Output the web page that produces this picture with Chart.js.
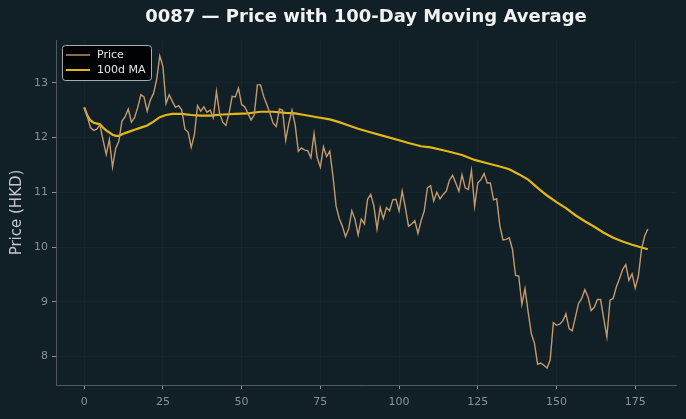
<!DOCTYPE html>
<html>
	<head>
		<meta charset="utf-8">
		<title>0087 Price with 100-Day MA</title>
		<script src="https://cdn.jsdelivr.net/npm/chart.js"></script>
		<style>
			html, body {
				margin: 0;
				padding: 0;
				background: #111f26;
			}
			#wrap {
				width: 686px;
				height: 419px;
			}
		</style>
	</head>
	<body>
		<div id="wrap">
			<canvas id="chart" width="686" height="419"></canvas>
		</div>
		<script>
			// daily closing price, index 0..179
			const priceValues = [
				12.55, 12.38, 12.18, 12.13, 12.15, 12.23, 11.95, 11.69, 11.96, 11.46,
				11.80, 11.93, 12.30, 12.38, 12.52, 12.28, 12.36, 12.55, 12.78, 12.74,
				12.48, 12.68, 12.80, 13.05, 13.49, 13.30, 12.62, 12.78, 12.66, 12.55,
				12.58, 12.50, 12.15, 12.10, 11.82, 12.05, 12.58, 12.48, 12.56, 12.46,
				12.50, 12.36, 12.84, 12.44, 12.28, 12.22, 12.44, 12.75, 12.74, 12.90,
				12.60, 12.56, 12.44, 12.32, 12.41, 12.96, 12.96, 12.75, 12.60, 12.44,
				12.26, 12.20, 12.52, 12.50, 11.95, 12.26, 12.50, 12.23, 11.75, 11.81,
				11.77, 11.76, 11.63, 12.07, 11.63, 11.46, 11.83, 11.65, 11.75, 11.30,
				10.75, 10.52, 10.38, 10.19, 10.33, 10.66, 10.51, 10.22, 10.51, 10.42,
				10.87, 10.96, 10.75, 10.33, 10.72, 10.52, 10.72, 10.66, 10.86, 10.87,
				10.66, 11.02, 10.72, 10.38, 10.42, 10.48, 10.25, 10.48, 10.66, 11.08,
				11.12, 10.84, 11.00, 10.88, 10.96, 11.02, 11.22, 11.31, 11.17, 11.02,
				11.32, 11.08, 11.05, 11.40, 10.74, 11.17, 11.23, 11.34, 11.17, 11.17,
				10.86, 10.88, 10.39, 10.13, 10.14, 10.17, 9.96, 9.48, 9.47, 8.95,
				9.24, 8.81, 8.42, 8.24, 7.86, 7.88, 7.84, 7.79, 7.94, 8.62,
				8.57, 8.59, 8.65, 8.78, 8.51, 8.47, 8.72, 8.97, 9.06, 9.22,
				9.09, 8.84, 8.90, 9.04, 9.04, 8.69, 8.36, 9.03, 9.06, 9.27,
				9.42, 9.59, 9.68, 9.39, 9.51, 9.25, 9.47, 9.96, 10.20, 10.33
			];

			// 100-day moving average, read at these day indices
			const maDays = [
				0, 1, 2, 3, 5, 6, 7, 9, 10, 11, 13, 15, 16, 18, 20, 22, 24, 26, 28, 31,
				34, 37, 40, 44, 48, 52, 56, 60, 64, 67, 70, 74, 78, 81, 84, 87, 90, 95,
				100, 103, 107, 110, 113, 116, 120, 124, 128, 132, 135, 138, 141, 144,
				147, 150, 153, 156, 159, 162, 165, 168, 171, 174, 177, 179
			];
			const maValues = [
				12.55, 12.40, 12.31, 12.27, 12.24, 12.18, 12.13, 12.05, 12.03, 12.03,
				12.08, 12.12, 12.14, 12.18, 12.22, 12.29, 12.37, 12.41, 12.43, 12.43,
				12.41, 12.40, 12.40, 12.42, 12.43, 12.44, 12.47, 12.47, 12.45, 12.44,
				12.41, 12.37, 12.33, 12.28, 12.22, 12.16, 12.11, 12.03,
				11.95, 11.90, 11.84, 11.82, 11.78, 11.74, 11.68, 11.59, 11.53, 11.47,
				11.42, 11.33, 11.23, 11.08,
				10.94, 10.82, 10.71, 10.58, 10.47, 10.37, 10.26, 10.17, 10.10, 10.04,
				9.99, 9.96
			];

			const xTicks = [0, 25, 50, 75, 100, 125, 150, 175];
			const yTicks = [8, 9, 10, 11, 12, 13];

			const chartTitle = '0087 — Price with 100-Day Moving Average';
			const seriesLabels = ['Price', '100d MA'];
			const seriesColors = ['#c49a6c', '#e3b714'];

			const bgPlugin = {
				id: 'bg',
				beforeDraw(chart) {
					const c = chart.ctx;
					c.save();
					c.fillStyle = '#111f26';
					c.fillRect(0, 0, chart.width, chart.height);
					c.restore();
				}
			};

			// title centred over the plot area (like matplotlib), not the canvas
			const plotTitle = {
				id: 'plotTitle',
				afterDraw(chart) {
					const c = chart.ctx;
					const a = chart.chartArea;
					c.save();
					c.font = 'bold 18px "DejaVu Sans"';
					c.fillStyle = '#f2f2f2';
					c.textAlign = 'center';
					c.textBaseline = 'middle';
					c.fillText(chartTitle, (a.left + a.right) / 2, 17.5);
					c.restore();
				}
			};

			// matplotlib-like legend box in the upper left of the plot
			const boxLegend = {
				id: 'boxLegend',
				afterDraw(chart) {
					const c = chart.ctx;
					const a = chart.chartArea;
					const x = a.left + 6, y = a.top + 5, w = 89, h = 35;
					c.save();
					c.beginPath();
					c.roundRect(x + 0.5, y + 0.5, w, h, 3);
					c.fillStyle = 'rgba(0,0,0,0.92)';
					c.fill();
					c.strokeStyle = '#a9adaf';
					c.lineWidth = 1;
					c.stroke();
					c.font = '11px "DejaVu Sans"';
					c.textBaseline = 'middle';
					seriesLabels.forEach((lab, i) => {
						const ly = y + 10 + i * 15;
						c.beginPath();
						c.moveTo(x + 4, ly);
						c.lineTo(x + 28, ly);
						c.strokeStyle = seriesColors[i];
						c.lineWidth = i === 0 ? 1.4 : 2;
						c.stroke();
						c.fillStyle = '#e6e6e6';
						c.fillText(lab, x + 35, ly);
					});
					c.restore();
				}
			};

			const ctx = document.getElementById('chart').getContext('2d');
			new Chart(ctx, {
				type: 'line',
				data: {
					datasets: [{
						label: seriesLabels[0],
						data: priceValues.map((v, i) => ({ x: i, y: v })),
						borderColor: seriesColors[0],
						borderWidth: 1.4,
						pointRadius: 0,
						tension: 0
					}, {
						label: seriesLabels[1],
						data: maDays.map((d, i) => ({ x: d, y: maValues[i] })),
						borderColor: seriesColors[1],
						borderWidth: 2.2,
						pointRadius: 0,
						tension: 0
					}]
				},
				options: {
					responsive: false,
					animation: false,
					layout: {
						padding: { top: 40, right: 10 }
					},
					plugins: {
						legend: { display: false },
						tooltip: { enabled: false },
						title: { display: false }
					},
					scales: {
						x: {
							type: 'linear',
							min: -8.95,
							max: 187.95,
							afterBuildTicks: (axis) => { axis.ticks = xTicks.map(v => ({ value: v })); },
							afterFit: (axis) => { axis.height = 34; },
							grid: {
								color: '#16242b',
								tickColor: '#8a9196',
								tickLength: 4
							},
							border: { color: '#50595e' },
							ticks: {
								color: '#8a9196',
								font: { family: '"DejaVu Sans"', size: 11 },
								padding: 7,
								maxRotation: 0
							}
						},
						y: {
							min: 7.48,
							max: 13.78,
							afterBuildTicks: (axis) => { axis.ticks = yTicks.map(v => ({ value: v })); },
							afterFit: (axis) => { axis.width = 56; },
							grid: {
								color: '#16242b',
								tickColor: '#8a9196',
								tickLength: 4
							},
							border: { color: '#50595e' },
							ticks: {
								color: '#8a9196',
								font: { family: '"DejaVu Sans"', size: 11 },
								padding: 4
							},
							title: {
								display: true,
								text: 'Price (HKD)',
								color: '#c4c8ca',
								font: { family: '"DejaVu Sans"', size: 15 },
								padding: { top: 8, bottom: 0 }
							}
						}
					}
				},
				plugins: [bgPlugin, plotTitle, boxLegend]
			});
		</script>
	</body>
</html>
